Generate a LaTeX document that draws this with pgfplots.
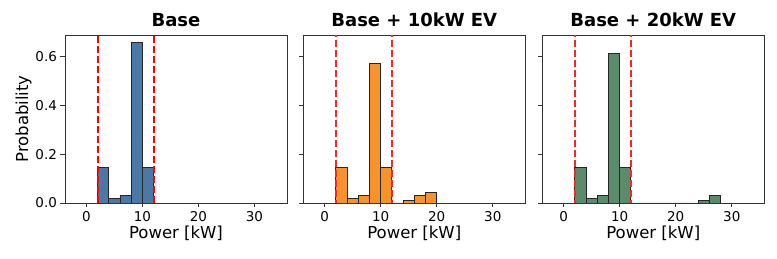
\documentclass[border=0pt]{standalone}
\usepackage{pgfplots}
\pgfplotsset{compat=1.18}
\usepackage{fontspec}
\setmainfont{DejaVu Sans}
\definecolor{cblue}{HTML}{4A79A5}
\definecolor{corange}{HTML}{F7932A}
\definecolor{cgreen}{HTML}{5A8C6C}
\definecolor{cred}{HTML}{EE2A2A}
\definecolor{axgray}{HTML}{333333}
\pgfplotsset{
  panel/.style={
    scale only axis, width=222pt, height=168pt,
    xmin=-3.8, xmax=35.8, ymin=0, ymax=0.69,
    xtick={0,10,20,30}, ytick={0,0.2,0.4,0.6},
    yticklabel style={/pgf/number format/fixed,/pgf/number format/fixed zerofill,/pgf/number format/precision=1},
    /pgf/number format/assume math mode=true,
    tick align=outside, tick pos=left,
    major tick length=4.5pt,
    every tick/.style={axgray, line width=0.9pt},
    axis line style={axgray, line width=0.9pt},
    tick label style={font=\fontsize{13.5}{16}\selectfont},
    label style={font=\fontsize{16.5}{19}\selectfont},
    title style={font=\fontsize{18}{21}\bfseries, yshift=-1pt},
    xlabel={Power [kW]},
    xlabel style={yshift=2pt},
    clip=true,
  },
  vl/.style={draw=cred, line width=1.8pt, dash pattern=on 7pt off 3pt, mark=none},
}
\begin{document}
\begin{tikzpicture}[x=1pt,y=1pt]
\path[use as bounding box] (0,0) rectangle (777,259);
\begin{axis}[panel, at={(65pt,56pt)}, anchor=south west, title={Base}, ylabel={Probability}, ylabel style={yshift=-3pt}]
\addplot[ybar interval, draw=black!85, line width=0.8pt, fill=cblue] coordinates {(2,0.145) (4,0.019) (6,0.030) (8,0.658) (10,0.145) (12,0)};
\addplot[draw=red, line width=1.8pt, dash pattern=on 7pt off 3pt, mark=none] coordinates {(2.05,0) (2.05,0.69)};
\addplot[draw=red, line width=1.8pt, dash pattern=on 7pt off 3pt, mark=none] coordinates {(12.05,0) (12.05,0.69)};
\end{axis}
\begin{axis}[panel, at={(303.3pt,56pt)}, anchor=south west, title={Base + 10kW EV}, yticklabels={}]
\addplot[ybar interval, draw=black!85, line width=0.8pt, fill=corange] coordinates {(2,0.145) (4,0.019) (6,0.031) (8,0.575) (10,0.145) (12,0) (14,0.011) (16,0.031) (18,0.042) (20,0)};
\addplot[vl] coordinates {(2,-0.1) (2,1)};
\addplot[vl] coordinates {(12,-0.1) (12,1)};
\end{axis}
\begin{axis}[panel, at={(542.3pt,56pt)}, anchor=south west, title={Base + 20kW EV}, yticklabels={}]
\addplot[ybar interval, draw=black!85, line width=0.8pt, fill=cgreen] coordinates {(2,0.145) (4,0.019) (6,0.031) (8,0.616) (10,0.145) (12,0) (14,0) (16,0) (18,0) (20,0) (22,0) (24,0.009) (26,0.031) (28,0)};
\addplot[vl] coordinates {(2,-0.1) (2,1)};
\addplot[vl] coordinates {(12,-0.1) (12,1)};
\end{axis}
\end{tikzpicture}
\end{document}
